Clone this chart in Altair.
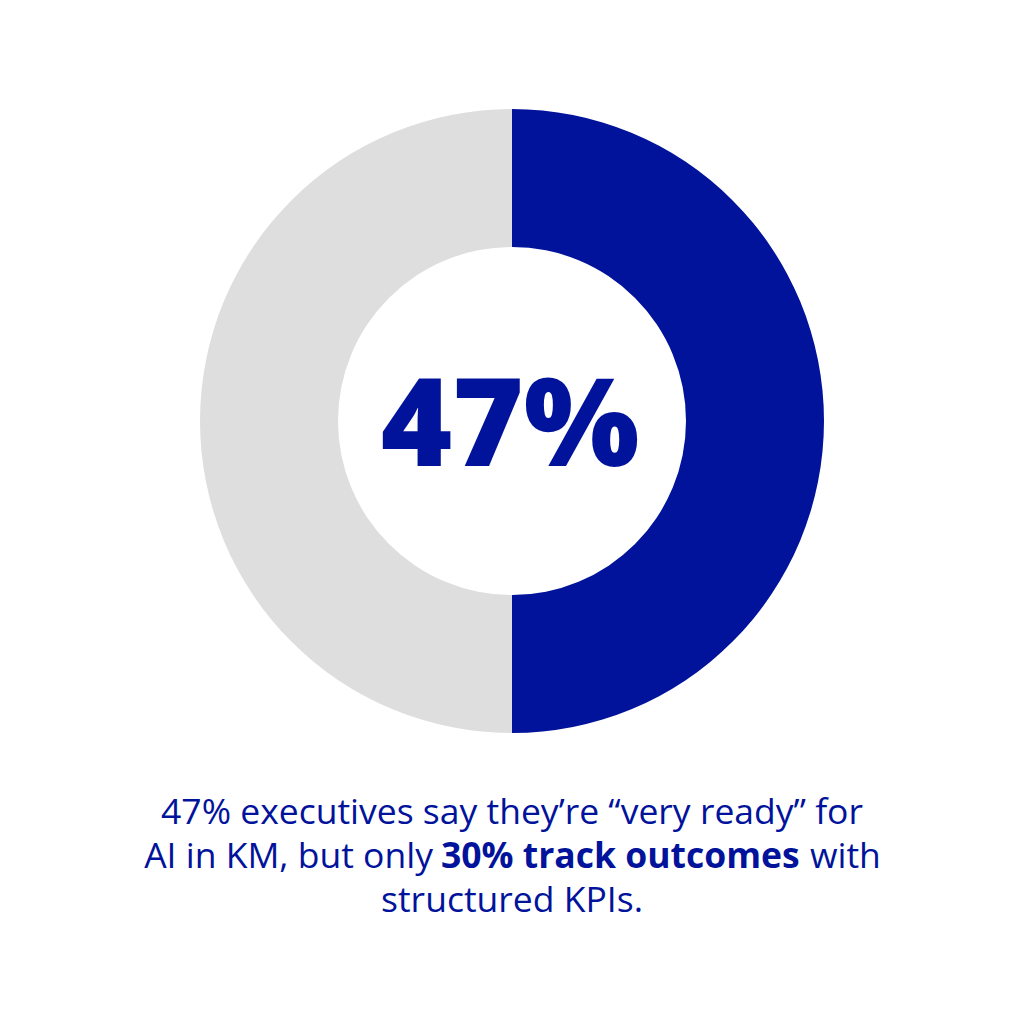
import altair as alt
import pandas as pd

# Data
segments = ["ready", "rest"]
segment_values = [50, 50]
segment_order = [1, 2]
segment_colors = ["#02139B", "#DEDEDE"]

center_label = ["47%"]
line1 = ["47% executives say they’re “very ready” for"]
line2_a = ["AI in KM, but only"]
line2_b = ["30% track outcomes"]
line2_c = ["with"]
line3 = ["structured KPIs."]

BLUE = "#02139B"
FONT = "Open Sans"
CAP = 35.5

donut_df = pd.DataFrame({"segment": segments, "value": segment_values, "order": segment_order})

donut = alt.Chart(donut_df).mark_arc(outerRadius=312, innerRadius=174, stroke=None).encode(
    theta=alt.Theta("value:Q", stack=True),
    order=alt.Order("order:Q"),
    color=alt.Color("segment:N", scale=alt.Scale(domain=segments, range=segment_colors), legend=None),
    x=alt.value(504),
    y=alt.value(413),
)

def text_layer(values, x, y, size, weight="normal", align="center"):
    return alt.Chart(pd.DataFrame({"t": values})).mark_text(
        font=FONT, fontSize=size, fontWeight=weight, color=BLUE, align=align, baseline="alphabetic"
    ).encode(text="t:N", x=alt.value(x), y=alt.value(y))

big = text_layer(center_label, 502, 458, 122, weight=800)
l1 = text_layer(line1, 504, 816, CAP)
l2a = text_layer(line2_a, 425, 860, CAP, align="right")
l2b = text_layer(line2_b, 433, 860, CAP, weight="bold", align="left")
l2c = text_layer(line2_c, 802, 860, CAP, align="left")
l3 = text_layer(line3, 504, 904, CAP)

chart = alt.layer(donut, big, l1, l2a, l2b, l2c, l3).properties(
    width=1008, height=1008,
    autosize=alt.AutoSizeParams(type="fit", contains="padding"),
    padding=0,
    background="white",
).configure_view(stroke=None)

chart.save("out.html", embed_options={"renderer": "svg", "actions": False})
